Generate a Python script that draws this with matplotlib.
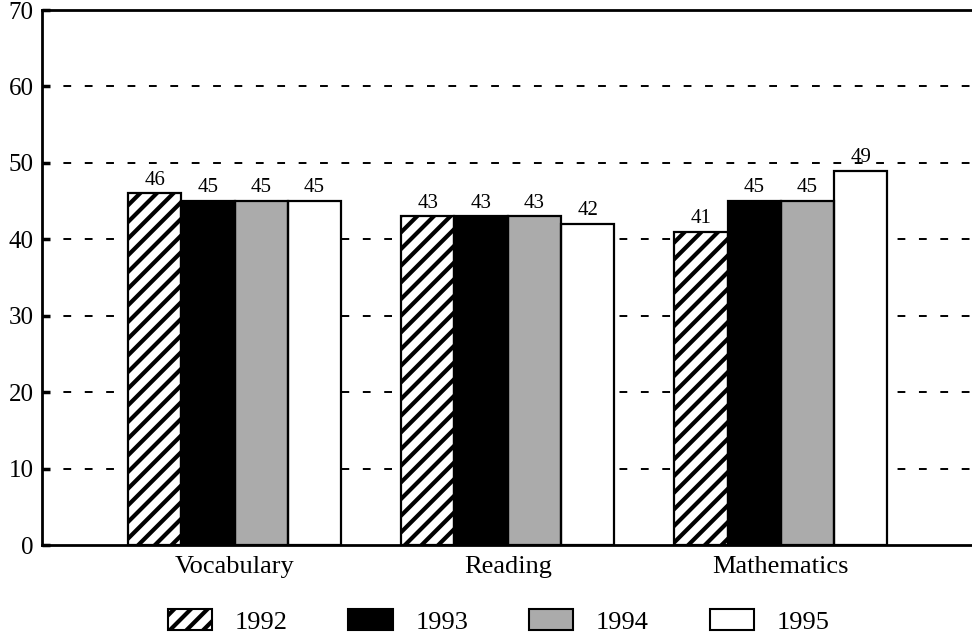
import numpy as np
import matplotlib.pyplot as plt
import matplotlib.patches as mpatches

plt.rcParams['font.family'] = ['Liberation Serif', 'DejaVu Serif']
plt.rcParams['hatch.linewidth'] = 3.0

categories = ['Vocabulary', 'Reading', 'Mathematics']
years = ['1992', '1993', '1994', '1995']
scores = {
    '1992': [46, 43, 41],
    '1993': [45, 43, 45],
    '1994': [45, 43, 45],
    '1995': [45, 42, 49],
}

# face, hatch
styles = {
    '1992': ('white', '//'),
    '1993': ('black', None),
    '1994': ('#ababab', None),
    '1995': ('white', None),
}

fig = plt.figure(figsize=(9.72, 6.37), dpi=100)
ax = fig.add_axes([0.0432, 0.1444, 0.9568, 0.8399])

x = np.arange(len(categories))
width = 0.195
offsets = (np.arange(len(years)) - 1.5) * width

handles = []
for yr, off in zip(years, offsets):
    face, hatch = styles[yr]
    vals = scores[yr]
    if hatch:
        ax.bar(x + off, vals, width, color=face, edgecolor='black',
               hatch=hatch, linewidth=0, zorder=2)
    else:
        ax.bar(x + off, vals, width, color=face, linewidth=0, zorder=2)
    ax.bar(x + off, vals, width, fill=False, edgecolor='black',
           linewidth=1.6, zorder=3)
    for xi, v in zip(x + off, vals):
        ax.text(xi, v + 0.5, str(v), ha='center', va='bottom', fontsize=15)
    handles.append(mpatches.Patch(facecolor=face, edgecolor='black',
                                  hatch=hatch, linewidth=1.5, label=yr))

ax.set_xlim(-0.705, 2.70)
ax.set_ylim(0, 70)
ax.set_yticks(range(0, 80, 10))
ax.set_xticks(x)
ax.set_xticklabels(categories, fontsize=19)
ax.tick_params(axis='x', length=0, pad=8)
ax.tick_params(axis='y', direction='in', length=6, width=2.5, labelsize=18, pad=6)

for yv in range(10, 70, 10):
    ax.axhline(yv, color='black', linestyle=(0, (4, 7)), linewidth=1.4, zorder=1)

ax.spines['right'].set_visible(False)
for s in ['left', 'top', 'bottom']:
    ax.spines[s].set_linewidth(2)

fig.legend(handles=handles, loc='center', bbox_to_anchor=(0.513, 0.025),
           ncol=4, frameon=False, fontsize=19, handlelength=1.67,
           handleheight=0.9, handletextpad=0.87, columnspacing=2.3,
           borderpad=0, borderaxespad=0)

plt.savefig('out.png', dpi=100, facecolor='white')
